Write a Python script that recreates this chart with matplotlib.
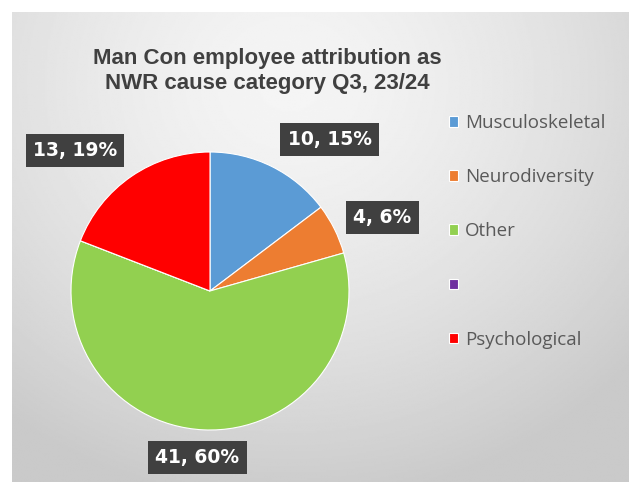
import numpy as np
import matplotlib
matplotlib.use("Agg")
import matplotlib.pyplot as plt

# Data
categories = ["Musculoskeletal", "Neurodiversity", "Other", "", "Psychological"]
counts = [10, 4, 41, 0, 13]
colors = ["#5B9BD5", "#ED7D31", "#92D050", "#7030A0", "#FF0000"]
title = "Man Con employee attribution as\nNWR cause category Q3, 23/24"

# label box positions (data units, pie radius = 1)
label_pos = [(0.86, 1.09), (1.24, 0.53), (-0.09, -1.20), None, (-0.97, 1.01)]

W, H = 629, 482
fig = plt.figure(figsize=(W / 100, H / 100), dpi=100)
fig.patch.set_facecolor("white")

# grey gradient background of the chart area
bg = fig.add_axes([12 / W, 0, 1 - 12 / W, 1 - 12 / H])
yy, xx = np.mgrid[0:1:300j, 0:1:400j]
dist = np.sqrt(((xx - 0.45) / 0.75) ** 2 + ((yy - 0.15) / 0.9) ** 2)
shade = 0.96 - 0.17 * np.clip(dist, 0, 1) ** 1.5
bg.imshow(shade, cmap="gray", vmin=0, vmax=1, aspect="auto",
          extent=[0, 1, 1, 0], interpolation="bilinear")
bg.axis("off")

ax = fig.add_axes([0, 0, 1, 1])
ax.patch.set_alpha(0)

cx, cy, r = 210, 291, 139
wedges, _ = ax.pie(counts, colors=colors, startangle=90, counterclock=False,
                   wedgeprops=dict(edgecolor="white", linewidth=0.8))
ax.set_xlim(-cx / r, (W - cx) / r)
ax.set_ylim(-(H - cy) / r, cy / r)
ax.set_aspect("equal")
ax.axis("off")

total = sum(counts)
for n, pos in zip(counts, label_pos):
    if pos is None:
        continue
    pct = round(100 * n / total)
    ax.text(pos[0], pos[1], f"{n}, {pct}%", ha="center", va="center",
            color="white", fontsize=13.5, fontweight="bold", family="DejaVu Sans",
            bbox=dict(boxstyle="square,pad=0.38", facecolor="#404040", edgecolor="none"))

fig.text(267 / W, 1 - 71 / H, title, ha="center", va="center",
         fontsize=16, fontweight="bold", family="Liberation Sans",
         color="#404040", linespacing=1.2)

leg = ax.legend(wedges, categories, loc="upper left",
                bbox_to_anchor=(449 / W, 1 - 114 / H), bbox_transform=fig.transFigure,
                frameon=False, borderpad=0, borderaxespad=0,
                handlelength=0.5, handleheight=0.5, handletextpad=0.35,
                labelspacing=1.93, prop=dict(family="Open Sans", size=13.5))
for t in leg.get_texts():
    t.set_color("#595959")

fig.savefig("out.png", dpi=100)
